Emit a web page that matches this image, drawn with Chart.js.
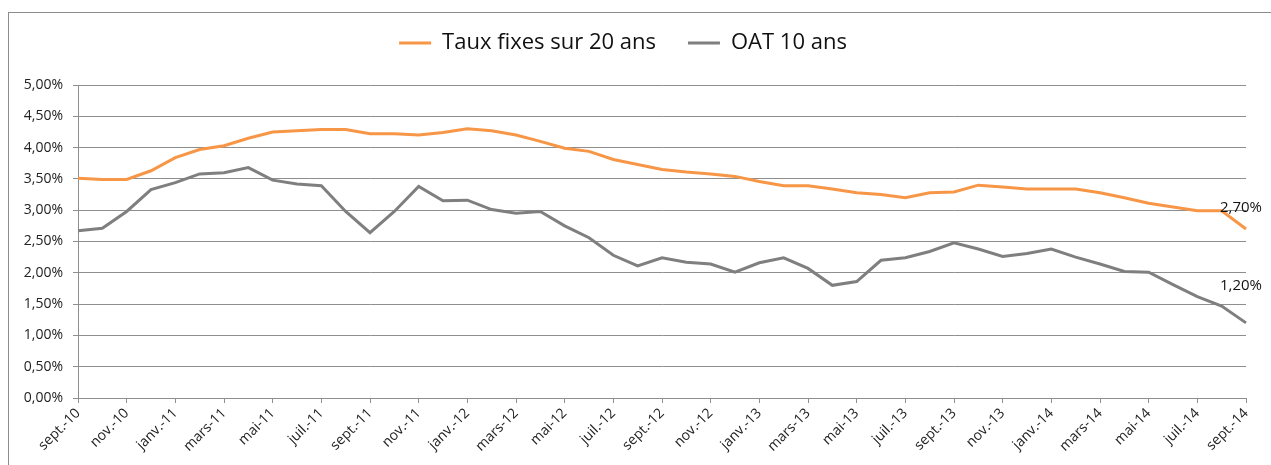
<!DOCTYPE html>
<html>
<head>
<meta charset="utf-8">
<script src="https://cdn.jsdelivr.net/npm/chart.js@4/dist/chart.umd.min.js"></script>
<style>
  html, body { margin: 0; padding: 0; background: #fff; }
  #wrap { position: relative; width: 1271px; height: 465px; overflow: hidden; }
  #frame { position: absolute; left: 8px; top: 12px; width: 1400px; height: 600px; border: 1px solid #8c8c8c; }
  #c { position: absolute; left: 0; top: 0; }
</style>
</head>
<body>
<div id="wrap">
  <div id="frame"></div>
  <canvas id="c" width="1271" height="465"></canvas>
</div>
<script>
// mois (sept. 2010 -> sept. 2014)
var mois = [
  "sept.-10", "oct.-10", "nov.-10", "déc.-10",
  "janv.-11", "févr.-11", "mars-11", "avr.-11", "mai-11", "juin-11", "juil.-11", "août-11", "sept.-11", "oct.-11", "nov.-11", "déc.-11",
  "janv.-12", "févr.-12", "mars-12", "avr.-12", "mai-12", "juin-12", "juil.-12", "août-12", "sept.-12", "oct.-12", "nov.-12", "déc.-12",
  "janv.-13", "févr.-13", "mars-13", "avr.-13", "mai-13", "juin-13", "juil.-13", "août-13", "sept.-13", "oct.-13", "nov.-13", "déc.-13",
  "janv.-14", "févr.-14", "mars-14", "avr.-14", "mai-14", "juin-14", "juil.-14", "août-14", "sept.-14"
];

// Taux fixes sur 20 ans (%)
var tauxFixes20 = [
  3.51, 3.49, 3.49, 3.63,
  3.84, 3.97, 4.03, 4.15, 4.25, 4.27, 4.29, 4.29, 4.22, 4.22, 4.20, 4.24,
  4.30, 4.27, 4.20, 4.10, 3.99, 3.94, 3.81, 3.73, 3.65, 3.61, 3.58, 3.54,
  3.46, 3.39, 3.39, 3.34, 3.28, 3.25, 3.20, 3.28, 3.29, 3.40, 3.37, 3.34,
  3.34, 3.34, 3.28, 3.20, 3.11, 3.05, 2.99, 2.99, 2.70
];

// OAT 10 ans (%)
var oat10 = [
  2.67, 2.71, 2.98, 3.33,
  3.44, 3.58, 3.60, 3.68, 3.48, 3.42, 3.39, 2.98, 2.64, 2.98, 3.38, 3.15,
  3.16, 3.01, 2.95, 2.98, 2.75, 2.56, 2.28, 2.11, 2.24, 2.17, 2.14, 2.01,
  2.16, 2.24, 2.07, 1.80, 1.86, 2.20, 2.24, 2.34, 2.48, 2.38, 2.26, 2.31,
  2.38, 2.25, 2.14, 2.02, 2.01, 1.81, 1.62, 1.47, 1.20
];

var gris = '#8e8e8e';
var police = "'Open Sans', 'Liberation Sans', sans-serif";

function pct(v, dec) {
  return v.toFixed(dec).replace('.', ',') + '%';
}

// étiquettes de la dernière valeur
var derniereValeur = {
  id: 'derniereValeur',
  afterDatasetsDraw: function (chart) {
    var ctx = chart.ctx;
    var decal = [-21, -37];
    ctx.save();
    ctx.font = '15px ' + police;
    ctx.fillStyle = '#111';
    ctx.textAlign = 'center';
    ctx.textBaseline = 'middle';
    chart.data.datasets.forEach(function (ds, i) {
      var meta = chart.getDatasetMeta(i);
      var last = meta.data[meta.data.length - 1];
      ctx.fillText(pct(ds.data[ds.data.length - 1], 2), last.x - 5, last.y + decal[i]);
    });
    ctx.restore();
  }
};

// espace sous la légende
var margeLegende = {
  id: 'margeLegende',
  beforeInit: function (chart) {
    var fit = chart.legend.fit;
    chart.legend.fit = function () {
      fit.bind(chart.legend)();
      this.height += 21;
    };
  }
};

new Chart(document.getElementById('c'), {
  type: 'line',
  data: {
    labels: mois,
    datasets: [{
      label: 'Taux fixes sur 20 ans',
      data: tauxFixes20,
      borderColor: '#F79646',
      backgroundColor: '#F79646',
      borderWidth: 3,
      pointRadius: 0,
      tension: 0
    }, {
      label: 'OAT 10 ans',
      data: oat10,
      borderColor: '#7F7F7F',
      backgroundColor: '#7F7F7F',
      borderWidth: 3,
      pointRadius: 0,
      tension: 0
    }]
  },
  options: {
    responsive: false,
    animation: false,
    layout: { padding: { left: 0, right: 25, top: 0, bottom: 0 } },
    plugins: {
      legend: {
        display: true,
        position: 'top',
        labels: {
          boxWidth: 32,
          boxHeight: 3,
          padding: 32,
          color: '#111',
          font: { family: police, size: 22 },
          generateLabels: function (chart) {
            var items = Chart.defaults.plugins.legend.labels.generateLabels(chart);
            items.forEach(function (it) { it.lineWidth = 0; });
            return items;
          }
        }
      },
      tooltip: { enabled: false }
    },
    scales: {
      x: {
        offset: false,
        grid: {
          drawOnChartArea: false,
          drawTicks: true,
          tickLength: 5,
          color: function (c) { return c.index % 2 === 0 ? gris : 'rgba(0,0,0,0)'; }
        },
        border: { display: true, color: gris },
        ticks: {
          autoSkip: false,
          minRotation: 45,
          maxRotation: 45,
          padding: 2,
          color: '#222',
          font: { family: police, size: 14 },
          callback: function (v, i) { return i % 2 === 0 ? mois[i] : ''; }
        },
        afterFit: function (s) { s.height = 67; }
      },
      y: {
        min: 0,
        max: 5,
        grid: { color: gris, tickLength: 5 },
        border: { display: true, color: gris },
        ticks: {
          stepSize: 0.5,
          padding: 10,
          color: '#222',
          font: { family: police, size: 14 },
          callback: function (v) { return pct(v, 2); }
        },
        afterFit: function (s) { s.width = 78; }
      }
    }
  },
  plugins: [derniereValeur, margeLegende]
});
</script>
</body>
</html>
